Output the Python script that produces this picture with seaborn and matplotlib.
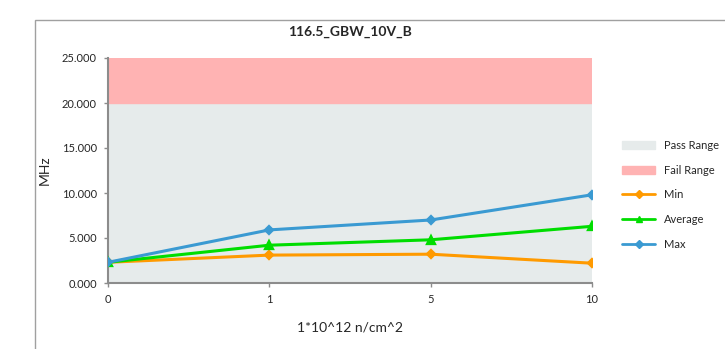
import matplotlib
matplotlib.use("Agg")
import matplotlib.pyplot as plt
import seaborn as sns
import pandas as pd
import numpy as np
from matplotlib.patches import Rectangle, Patch
from matplotlib.lines import Line2D

categories = ["0", "1", "5", "10"]
min_vals = [2.3, 3.1, 3.2, 2.2]
avg_vals = [2.3, 4.2, 4.8, 6.3]
max_vals = [2.3, 5.9, 7.0, 9.8]
pass_range = (0, 20)
fail_range = (20, 25)
yticks = [0, 5, 10, 15, 20, 25]

sns.set_theme(style="white")
plt.rcParams['font.family'] = ['Lato', 'DejaVu Sans']

fig = plt.figure(figsize=(7.25, 3.49), dpi=100)
fig.patches.append(Rectangle((35/725, -0.1), 1.0, 1.1 - 20/349, transform=fig.transFigure,
                             fill=False, edgecolor="#a0a0a0", linewidth=1.0))
ax = fig.add_axes([108/725, 1-283/349, (592-108)/725, (283-58)/349])

ax.axhspan(*pass_range, color="#e6ebeb", zorder=0)
ax.axhspan(*fail_range, color="#ffb3b3", zorder=0)

df = pd.DataFrame({
    "dose": categories * 3,
    "value": min_vals + avg_vals + max_vals,
    "series": ["Min"] * 4 + ["Average"] * 4 + ["Max"] * 4,
})
palette = {"Min": "#ff9a00", "Average": "#00dd00", "Max": "#3a9ad2"}
markers = {"Min": "D", "Average": "^", "Max": "D"}
for s in ["Min", "Average", "Max"]:
    sub = df[df.series == s]
    sns.pointplot(data=sub, x="dose", y="value", color=palette[s], marker=markers[s],
                  markersize=4.5 if s != "Average" else 5.5, linewidth=2.2, ax=ax,
                  order=categories, zorder=3)

ax.set_xlim(0, 3)
ax.set_ylim(0, 25)
ax.set_yticks(yticks)
ax.set_yticklabels([f"{v:.3f}" for v in yticks], fontsize=8)
ax.set_xticks(range(len(categories)))
ax.set_xticklabels(categories, fontsize=8)
for side in ["top", "right"]:
    ax.spines[side].set_visible(False)
for side in ["left", "bottom"]:
    ax.spines[side].set_color("#8c8c8c")
    ax.spines[side].set_linewidth(1.5)
ax.tick_params(axis="both", length=3, width=1, color="#8c8c8c", direction="out",
               left=True, bottom=True, pad=5)
ax.set_xlabel("1*10^12 n/cm^2", fontsize=10, labelpad=12)
ax.set_ylabel("MHz", fontsize=10, labelpad=8)
ax.set_title("116.5_GBW_10V_B", fontsize=10, fontweight="bold", pad=16)

handles = [
    Patch(color="#e6ebeb", label="Pass Range"),
    Patch(color="#ffb3b3", label="Fail Range"),
    Line2D([0], [0], color=palette["Min"], marker="D", markersize=4, linewidth=2, label="Min"),
    Line2D([0], [0], color=palette["Average"], marker="^", markersize=5, linewidth=2, label="Average"),
    Line2D([0], [0], color=palette["Max"], marker="D", markersize=4, linewidth=2, label="Max"),
]
fig.legend(handles=handles, loc="center left", bbox_to_anchor=(612/725, 1-195/349),
           frameon=False, fontsize=8, labelspacing=1.25, handlelength=3.0, handleheight=0.8)

fig.savefig("out.png", dpi=100)
